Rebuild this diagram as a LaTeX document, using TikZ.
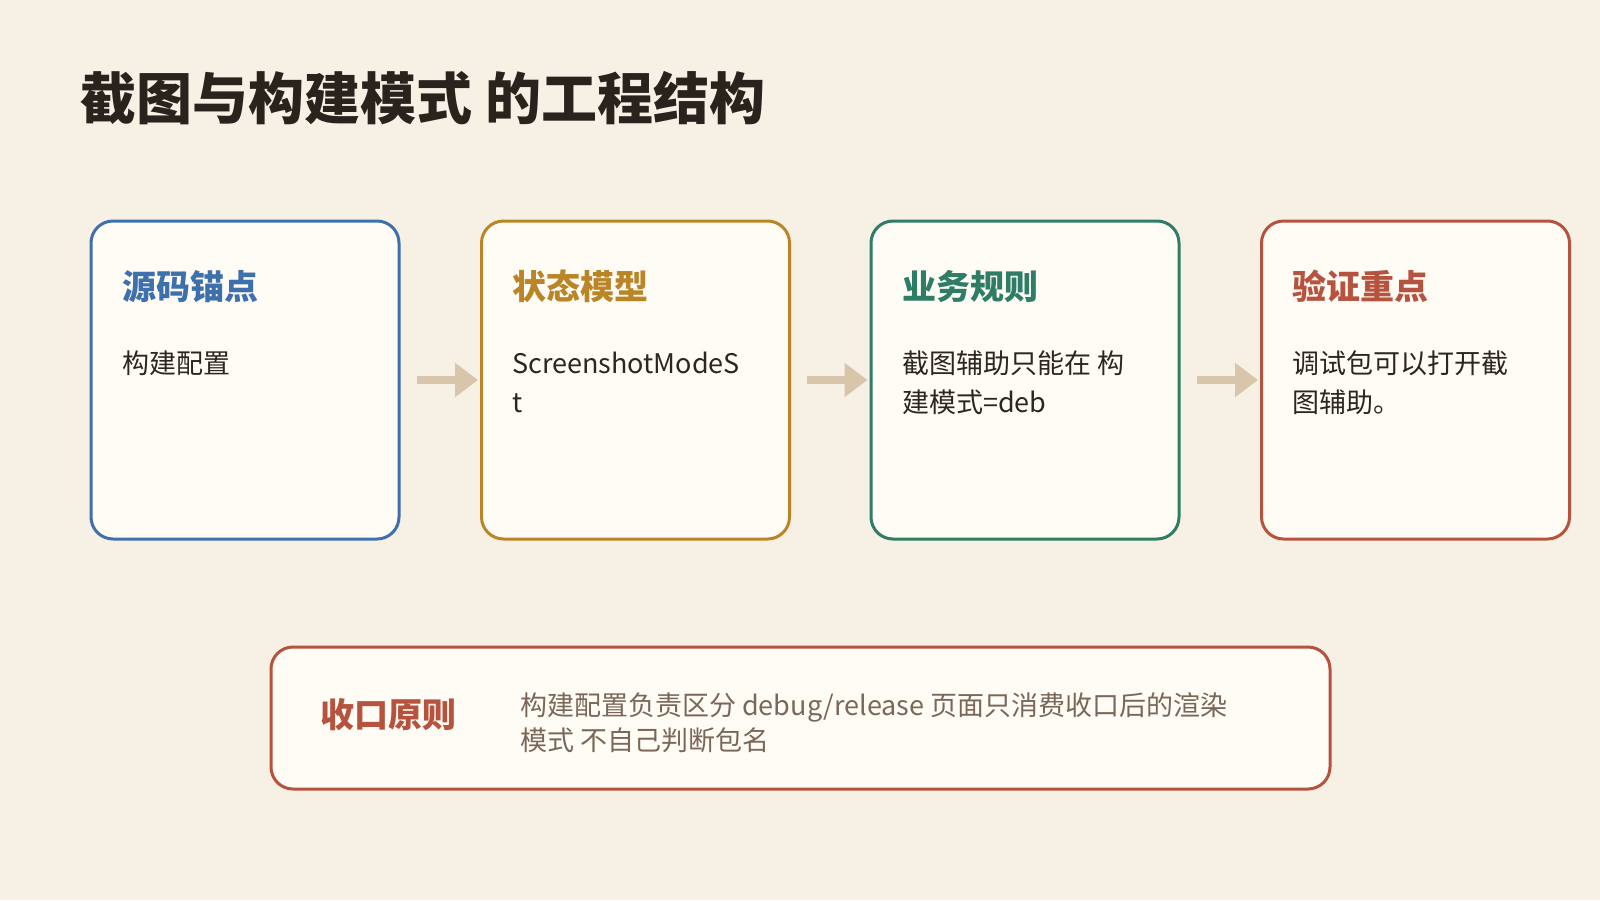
\documentclass[tikz,border=0pt]{standalone}
\usepackage{fontspec}
\setmainfont{Noto Sans CJK SC}
\usetikzlibrary{arrows.meta}
\definecolor{bgc}{HTML}{F7F0E4}
\definecolor{cardfill}{HTML}{FFFCF6}
\definecolor{cblue}{HTML}{3E70AD}
\definecolor{cgold}{HTML}{BA8526}
\definecolor{cgreen}{HTML}{2E7D66}
\definecolor{cred}{HTML}{B5533F}
\definecolor{titlec}{HTML}{2A231D}
\definecolor{bodyc}{HTML}{2D2620}
\definecolor{notec}{HTML}{7B6757}
\definecolor{arrc}{HTML}{D9C6AA}
\tikzset{
  card/.style={draw=#1, line width=3pt, fill=cardfill, rounded corners=22pt,
    minimum width=308pt, minimum height=318pt, inner sep=0pt},
  notebox/.style={draw=cred, line width=3pt, fill=cardfill, rounded corners=22pt,
    minimum width=1059pt, minimum height=142pt, inner sep=0pt},
  head/.style={anchor=base west, inner sep=0pt, text=#1,
    font=\fontsize{34pt}{40pt}\selectfont\bfseries},
  body/.style={anchor=base west, inner sep=0pt, text=bodyc,
    font=\fontsize{27pt}{39pt}\selectfont},
  note/.style={anchor=base west, inner sep=0pt, text=notec,
    font=\fontsize{27pt}{36pt}\selectfont},
  flow/.style={draw=arrc, line width=8pt, -{Triangle[length=23pt,width=33pt]}},
}
\begin{document}
\begin{tikzpicture}[x=1pt,y=-1pt]
\fill[bgc] (0,0) rectangle (1600,900);
\useasboundingbox (0,0) rectangle (1600,900);

\node[anchor=base west, inner sep=0pt, text=titlec,
  font=\fontsize{56pt}{64pt}\selectfont\bfseries] (title) at (80,119) {截图与构建模式 的工程结构};

\node[card=cblue]  (b1) at (245,380) {};
\node[card=cgold]  (b2) at (635.5,380) {};
\node[card=cgreen] (b3) at (1025,380) {};
\node[card=cred]   (b4) at (1415.5,380) {};

\node[head=cblue]  (h1) at (122,299.5) {源码锚点};
\node[head=cgold]  (h2) at (512,299.5) {状态模型};
\node[head=cgreen] (h3) at (902,299.5) {业务规则};
\node[head=cred]   (h4) at (1292,299.5) {验证重点};

\node[body] (t1a) at (122,373) {构建配置};
\node[body] (t2a) at (512,373) {ScreenshotModeS};
\node[body] (t2b) at (512,412) {t};
\node[body] (t3a) at (902,373) {截图辅助只能在 构};
\node[body] (t3b) at (902,412) {建模式=deb};
\node[body] (t4a) at (1292,373) {调试包可以打开截};
\node[body] (t4b) at (1292,412) {图辅助。};

\draw[flow] ([xshift=16pt]b1.east) -- ([xshift=-2pt]b2.west);
\draw[flow] ([xshift=16pt]b2.east) -- ([xshift=-2pt]b3.west);
\draw[flow] ([xshift=16pt]b3.east) -- ([xshift=-2pt]b4.west);

\node[notebox] (nb) at (800.5,718) {};
\node[head=cred] (nh) at (320,727.5) {收口原则};
\node[note] (n1) at (520,715) {构建配置负责区分 debug/release 页面只消费收口后的渲染};
\node[note] (n2) at (520,750.5) {模式 不自己判断包名};
\end{tikzpicture}
\end{document}
